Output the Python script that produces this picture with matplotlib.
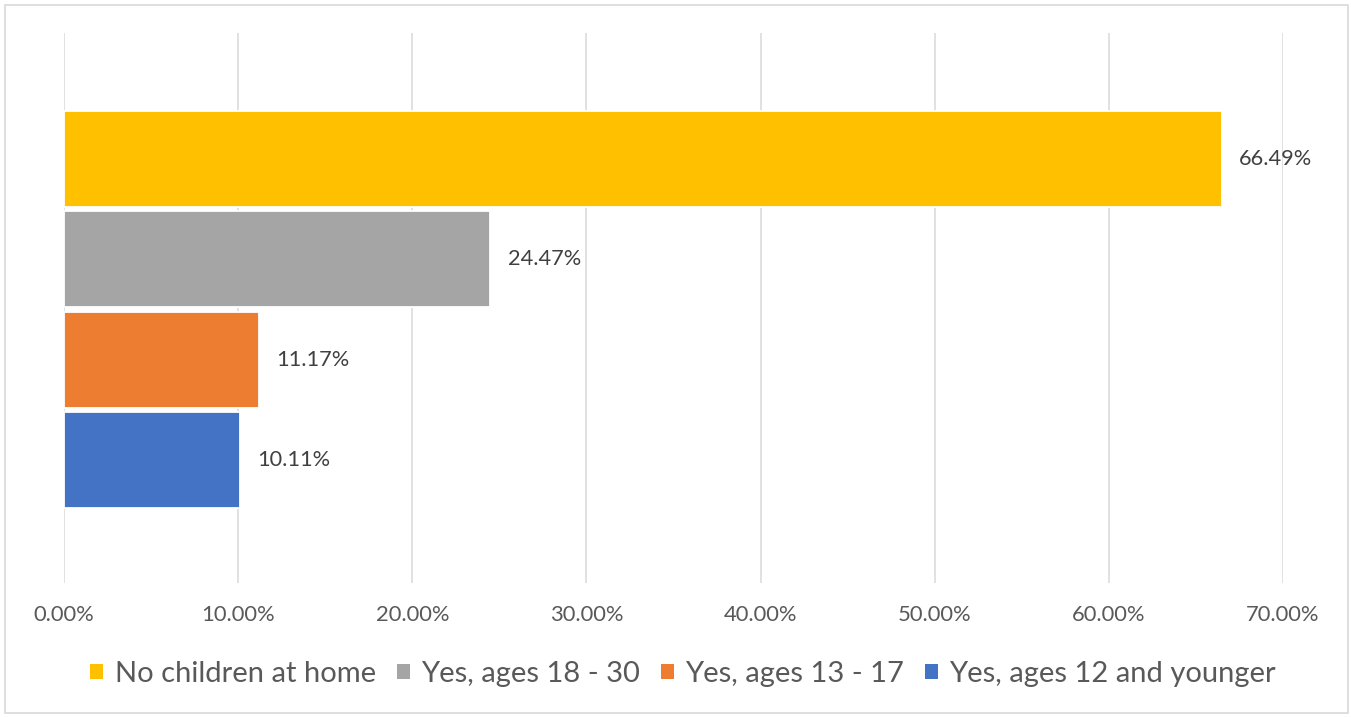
import matplotlib
matplotlib.use("Agg")
import matplotlib.pyplot as plt
from matplotlib.patches import Rectangle, Patch

categories = ["No children at home", "Yes, ages 18 - 30", "Yes, ages 13 - 17", "Yes, ages 12 and younger"]
values = [66.49, 24.47, 11.17, 10.11]
colors = ["#FFC000", "#A5A5A5", "#ED7D31", "#4472C4"]
xticks = [0, 10, 20, 30, 40, 50, 60, 70]

W, H = 1351, 717
plt.rcParams['font.family'] = ['Lato', 'DejaVu Sans']
fig = plt.figure(figsize=(W / 100, H / 100), dpi=100)
ax = fig.add_axes([64 / W, 1 - 583 / H, (1283 - 64) / W, (583 - 33) / H])

pos = list(range(len(values)))
ax.barh(pos, values, height=0.96, color=colors, edgecolor="white", linewidth=1.3, zorder=3)
for p, v in zip(pos, values):
    ax.text(v + 1.0, p, f"{v:.2f}%", va="center", ha="left", fontsize=15.7, color="#404040", zorder=4)

ax.set_xlim(0, 70)
ax.set_ylim(3 + 123 / 100.5, -126 / 100.5)
ax.set_xticks(xticks)
ax.set_xticklabels([f"{t:.2f}%" for t in xticks], fontsize=15.8, color="#595959")
ax.set_yticks([])
ax.tick_params(axis="x", length=0, pad=16)
ax.grid(axis="x", color="#D9D9D9", linewidth=1.1, zorder=0)
for s in ax.spines.values():
    s.set_visible(False)

handles = [Patch(facecolor=c, edgecolor="none") for c in colors]
fig.legend(handles, categories, loc="center", bbox_to_anchor=(683 / W, 1 - 674 / H), ncol=4,
           frameon=False, fontsize=21, labelcolor="#595959", handlelength=0.45, handleheight=0.45,
           handletextpad=0.38, columnspacing=0.72)

fig.patches.append(Rectangle((5 / W, 4 / H), (1348 - 5) / W, (713 - 5) / H, transform=fig.transFigure,
                             fill=False, edgecolor="#D9D9D9", linewidth=1.2))

fig.savefig("out.png", dpi=100)
